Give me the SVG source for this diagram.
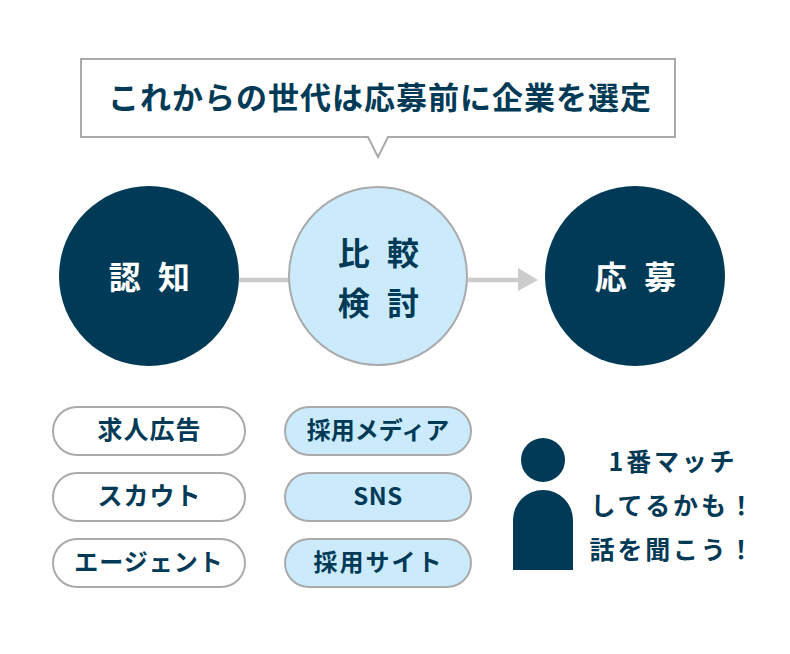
<svg xmlns="http://www.w3.org/2000/svg" width="790" height="654" viewBox="0 0 790 654">
<style>
text{font-family:"Noto Sans CJK JP","Noto Sans",sans-serif;font-weight:700;fill:#003a56;text-anchor:middle}
.pill{stroke:#aaa;stroke-width:2}
.w{fill:#fff}.b{fill:#cbebfc}
.p{font-size:25px;letter-spacing:1px}
.c{font-size:32px;letter-spacing:5px}
.s{font-size:25px;letter-spacing:2.8px}
</style>
<rect width="790" height="654" fill="#fff"/>
<g id="connectors">
<path d="M239 280H290M468 280H520" stroke="#ccc" stroke-width="4.5" fill="none"/>
<path d="M518 268L538 280L518 291Z" fill="#ccc"/>
</g>
<g id="callout">
<path d="M81 59H675V137H388L378 157L368 137H81Z" fill="#fff" stroke="#aaa" stroke-width="2"/>
<text x="380" y="109" font-size="31" letter-spacing="1">これからの世代は応募前に企業を選定</text>
</g>
<g id="node-ninchi"><circle cx="149" cy="276" r="90" fill="#003a56"/><text class="c" x="152" y="289" style="fill:#fff">認 知</text></g>
<g id="node-hikaku"><circle cx="378" cy="276" r="89" class="b" stroke="#aaa" stroke-width="2"/><text class="c" x="381" y="265">比 較</text><text class="c" x="381" y="315">検 討</text></g>
<g id="node-oubo"><circle cx="635" cy="276" r="90" fill="#003a56"/><text class="c" x="638" y="289" style="fill:#fff">応 募</text></g>
<g id="pill-1"><rect class="pill w" x="53" y="407" width="192" height="48" rx="24"/><text class="p" x="149.500" y="439">求人広告</text></g>
<g id="pill-2"><rect class="pill w" x="53" y="473" width="192" height="48" rx="24"/><text class="p" x="149.500" y="505" style="letter-spacing:1px">スカウト</text></g>
<g id="pill-3"><rect class="pill w" x="53" y="539" width="192" height="48" rx="24"/><text class="p" x="149" y="571" style="font-size:24px;letter-spacing:1px">エージェント</text></g>
<g id="pill-4"><rect class="pill b" x="285" y="407" width="186" height="48" rx="24"/><text class="p" x="378" y="439" style="font-size:24px;letter-spacing:0">採用メディア</text></g>
<g id="pill-5"><rect class="pill b" x="285" y="473" width="186" height="48" rx="24"/><text class="p" x="378" y="505" style="font-size:24px;letter-spacing:.5px">SNS</text></g>
<g id="pill-6"><rect class="pill b" x="285" y="539" width="186" height="48" rx="24"/><text class="p" x="378.500" y="571" style="font-size:24px;letter-spacing:2px">採用サイト</text></g>
<g id="person"><circle cx="543" cy="460" r="22" fill="#003a56"/><path d="M513 570V520a30 30 0 0 1 60 0V570Z" fill="#003a56"/></g>
<g id="speech">
<text class="s" x="673" y="471">1番マッチ</text>
<text class="s" x="673.500" y="515">してるかも！</text>
<text class="s" x="673" y="559">話を聞こう！</text>
</g>
</svg>
